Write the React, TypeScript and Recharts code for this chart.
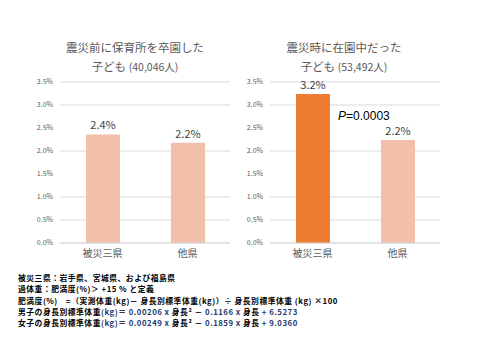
import { BarChart, Bar, XAxis, YAxis, CartesianGrid, Cell, LabelList } from 'recharts';

const categories = ['被災三県', '他県'];
const graduatedBefore = [2.36, 2.18];
const enrolledDuring = [3.24, 2.24];
const yTicks = [0, 0.5, 1, 1.5, 2, 2.5, 3, 3.5];

const pValueText = '=0.0003';

const footnotes = [
    '被災三県：岩手県、宮城県、および福島県',
    '過体重：肥満度(%)＞ +15 % と定義',
    '肥満度(%)　=（実測体重(kg)－ 身長別標準体重(kg)）÷ 身長別標準体重 (kg) ×100',
];
const formulaBoys = ['男子の身長別標準体重', '(kg)', '＝ ', '0.00206 x ', '身長', '² － ', '0.1166 x ', '身長', ' + 6.5273'];
const formulaGirls = ['女子の身長別標準体重', '(kg)', '＝ ', '0.00249 x ', '身長', '² － ', '0.1859 x ', '身長', ' + 9.0360'];

const LIGHT = '#F2BFAB';
const ORANGE = '#ED7D31';
const GRID = '#d9d9d9';
const TEXT = '#595959';
const FONT = '"Noto Sans CJK JP", "Noto Sans", sans-serif';

interface PanelProps {
    values: number[];
    colors: string[];
    left: number;
}

function Panel({ values, colors, left }: PanelProps) {
    const data = categories.map((name, i) => ({ name, value: values[i] }));
    return (
        <div style={{ position: 'absolute', left, top: 70 }}>
            <BarChart
                width={240}
                height={195}
                data={data}
                margin={{ top: 12, right: 10, left: 0, bottom: 2 }}
            >
                <CartesianGrid vertical={false} stroke={GRID} />
                <XAxis
                    dataKey="name"
                    axisLine={{ stroke: GRID }}
                    tickLine={false}
                    tickSize={0}
                    tickMargin={7}
                    height={20}
                    tick={{ fill: TEXT, fontSize: 10, fontFamily: FONT }}
                />
                <YAxis
                    domain={[0, 3.5]}
                    ticks={yTicks}
                    width={60}
                    axisLine={false}
                    tickLine={false}
                    tickSize={0}
                    tickMargin={7}
                    tick={{ fill: TEXT, fontSize: 7, fontFamily: FONT }}
                    tickFormatter={(v: number) => `${v.toFixed(1)}%`}
                />
                <Bar dataKey="value" barSize={34} isAnimationActive={false}>
                    {data.map((d, i) => (
                        <Cell key={d.name} fill={colors[i]} />
                    ))}
                    <LabelList
                        dataKey="value"
                        position="top"
                        offset={5}
                        fill="#404040"
                        fontSize={11}
                        fontFamily={FONT}
                        formatter={(v: number) => `${v.toFixed(1)}%`}
                    />
                </Bar>
            </BarChart>
        </div>
    );
}

function Title({ line1, count, center }: { line1: string; count: string; center: number }) {
    return (
        <div
            style={{
                position: 'absolute',
                left: center - 100,
                top: 38,
                width: 200,
                textAlign: 'center',
                color: TEXT,
                fontFamily: FONT,
                fontSize: 11.5,
                lineHeight: '19px',
            }}
        >
            <div>{line1}</div>
            <div>
                子ども <span style={{ fontSize: 10.5 }}>{count}</span>
            </div>
        </div>
    );
}

function Formula({ parts }: { parts: string[] }) {
    const blue = new Set([1, 3, 6, 8]);
    return (
        <div>
            {parts.map((p, i) => (
                <span key={i} style={{ color: blue.has(i) ? '#1F3A70' : '#000' }}>
                    {p}
                </span>
            ))}
        </div>
    );
}

export default function App() {
    return (
        <div
            style={{
                position: 'absolute',
                left: 0,
                top: 0,
                width: 480,
                height: 360,
                background: '#fff',
                overflow: 'hidden',
            }}
        >
            <Title line1="震災前に保育所を卒園した" count="(40,046人)" center={135} />
            <Title line1="震災時に在園中だった" count="(53,492人)" center={344} />
            <Panel values={graduatedBefore} colors={[LIGHT, LIGHT]} left={0} />
            <Panel values={enrolledDuring} colors={[ORANGE, LIGHT]} left={210} />
            <div
                style={{
                    position: 'absolute',
                    left: 338,
                    top: 108,
                    fontFamily: '"Liberation Sans", sans-serif',
                    fontSize: 12,
                    lineHeight: '16px',
                    color: '#000',
                }}
            >
                <i>P</i>
                {pValueText}
            </div>
            <div
                style={{
                    position: 'absolute',
                    left: 18,
                    top: 272,
                    fontFamily: FONT,
                    fontSize: 7.8,
                    fontWeight: 700,
                    letterSpacing: 0.5,
                    lineHeight: '11.3px',
                    color: '#000',
                    whiteSpace: 'nowrap',
                }}
            >
                {footnotes.map((f) => (
                    <div key={f}>{f}</div>
                ))}
                <Formula parts={formulaBoys} />
                <Formula parts={formulaGirls} />
            </div>
        </div>
    );
}
